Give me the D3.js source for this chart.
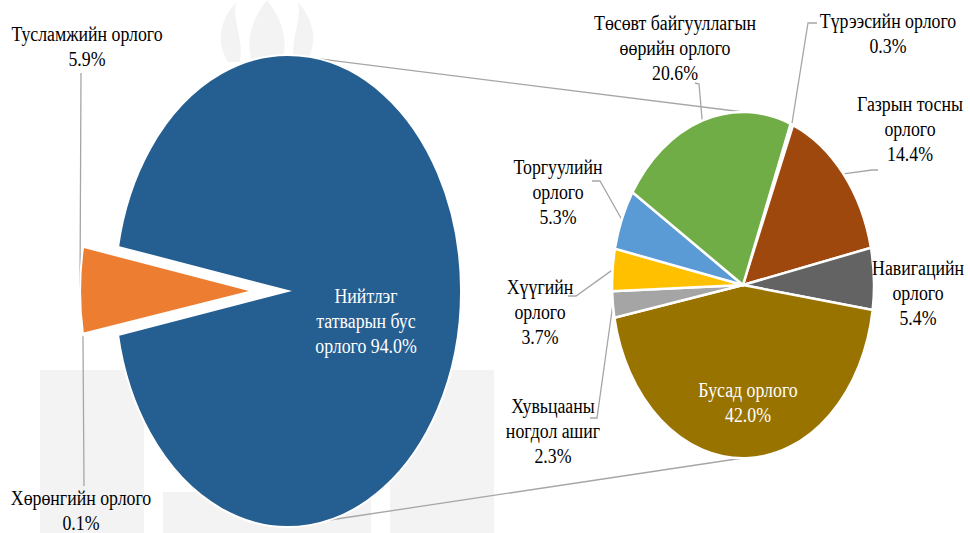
<!DOCTYPE html>
<html>
<head>
<meta charset="utf-8">
<script src="https://cdn.jsdelivr.net/npm/d3@7"></script>
<style>
  body { margin: 0; background: #fff; }
</style>
</head>
<body>
<svg id="chart" width="970" height="533"></svg>
<script>
// left pie: total non-tax revenue
const mainNames = ['Нийтлэг татварын бус орлого', 'Хөрөнгийн орлого', 'Тусламжийн орлого'];
const mainValues = [94.0, 0.1, 5.9];
const mainColors = ['#255E91', '#A5A5A5', '#ED7D31'];
const mainLines = [['Нийтлэг', 'татварын бус', 'орлого 94.0%'], ['Хөрөнгийн орлого', '0.1%'], ['Тусламжийн орлого', '5.9%']];

// right pie: breakdown of the 94.0% slice
const subNames = ['Түрээсийн орлого', 'Газрын тосны орлого', 'Навигацийн орлого', 'Бусад орлого',
  'Хувьцааны ногдол ашиг', 'Хүүгийн орлого', 'Торгуулийн орлого', 'Төсөвт байгууллагын өөрийн орлого'];
const subValues = [0.3, 14.4, 5.4, 42.0, 2.3, 3.7, 5.3, 20.6];
const subColors = ['#4472C4', '#9E480E', '#636363', '#997300', '#A5A5A5', '#FFC000', '#5B9BD5', '#70AD47'];
const subLines = [
  ['Түрээсийн орлого', '0.3%'],
  ['Газрын тосны', 'орлого', '14.4%'],
  ['Навигацийн', 'орлого', '5.4%'],
  ['Бусад орлого', '42.0%'],
  ['Хувьцааны', 'ногдол ашиг', '2.3%'],
  ['Хүүгийн', 'орлого', '3.7%'],
  ['Торгуулийн', 'орлого', '5.3%'],
  ['Төсөвт байгууллагын', 'өөрийн орлого', '20.6%']
];

const svg = d3.select('#chart');
const rad = d => d * Math.PI / 180;
const lineH = 25;
const squeeze = 0.89;
const fontFamily = 'Tinos, Times New Roman, serif';

// geometry
const L = { cx: 288, cy: 291, rx: 173, ry: 236, start: rad(-79.2), explode: 35 };
const R = { cx: 743, cy: 285, rx: 131, ry: 173, start: rad(21.3) };

// label layout: center x, first baseline, optional leader points on the label side
const mainLabelPos = [
  { x: 366, y: 303, fill: '#fff' },
  { x: 81, y: 505, lead: [[84, 486]] },
  { x: 87, y: 41, lead: [[81, 73]] }
];
const subLabelPos = [
  { x: 888, y: 28, lead: [[817, 23], [808, 23]] },
  { x: 910, y: 111, lead: [[878, 170], [872, 170]] },
  { x: 918, y: 275 },
  { x: 748, y: 397, fill: '#fff' },
  { x: 553, y: 413, lead: [[590, 418], [597, 418]] },
  { x: 540, y: 294, lead: [[568, 296], [576, 296]] },
  { x: 558, y: 174, lead: [[592, 181], [600, 181]] },
  { x: 675, y: 30, lead: [[695, 83], [699, 84]] }
];

const onEllipse = (p, a, dx = 0, dy = 0) => [p.cx + dx + p.rx * Math.sin(a), p.cy + dy - p.ry * Math.cos(a)];

// faint watermark in the background
const wm = svg.append('g').attr('fill', '#f3f3f3');
[[40, 370, 104, 163], [390, 370, 104, 163], [163, 492, 208, 41]].forEach(([x, y, w, h]) =>
  wm.append('rect').attr('x', x).attr('y', y).attr('width', w).attr('height', h));
wm.append('path').attr('d',
  'M228,62 C214,40 222,18 236,2 C232,22 244,38 240,62 Z ' +
  'M252,62 C244,36 256,14 267,0 C278,14 290,36 282,62 Z ' +
  'M294,62 C290,38 302,22 298,2 C312,18 320,40 306,62 Z');

const pie = d3.pie().sort(null).value(d => d.value);
const unitArc = d3.arc().innerRadius(0).outerRadius(1);

const mainData = mainValues.map((v, i) => ({ name: mainNames[i], value: v, color: mainColors[i], lines: mainLines[i], pos: mainLabelPos[i] }));
const subData = subValues.map((v, i) => ({ name: subNames[i], value: v, color: subColors[i], lines: subLines[i], pos: subLabelPos[i] }));

const mainArcs = pie.startAngle(L.start).endAngle(L.start + 2 * Math.PI)(mainData);
const subArcs = pie.startAngle(R.start).endAngle(R.start + 2 * Math.PI)(subData);

// connector lines between the two pies (drawn below the pies)
const conn = svg.append('g').attr('stroke', '#a6a6a6').attr('stroke-width', 1.3).attr('fill', 'none');
[[rad(10.5), 0], [rad(166), Math.PI]].forEach(([aL, aR]) => {
  const p0 = onEllipse(L, aL);
  const p1 = onEllipse(R, aR);
  conn.append('line').attr('x1', p0[0]).attr('y1', p0[1]).attr('x2', p1[0]).attr('y2', p1[1]);
});

// secondary slices of the left pie are pulled out along their common middle
const splitMid = (mainArcs[0].endAngle + L.start + 2 * Math.PI) / 2;
const ex = L.explode * Math.sin(splitMid);
const ey = -L.explode * Math.cos(splitMid);

const leaders = svg.append('g').attr('stroke', '#a6a6a6').attr('stroke-width', 1.3).attr('fill', 'none');

mainArcs.forEach((a, i) => {
  const dx = i === 0 ? 0 : ex;
  const dy = i === 0 ? 0 : ey;
  svg.append('path')
    .attr('transform', `translate(${L.cx + dx},${L.cy + dy}) scale(${L.rx},${L.ry})`)
    .attr('d', unitArc(a))
    .attr('fill', a.data.color)
    .attr('stroke', '#fff')
    .attr('stroke-width', 2)
    .attr('vector-effect', 'non-scaling-stroke');
});

subArcs.forEach(a => {
  svg.append('path')
    .attr('transform', `translate(${R.cx},${R.cy}) scale(${R.rx},${R.ry})`)
    .attr('d', unitArc(a))
    .attr('fill', a.data.color)
    .attr('stroke', '#fff')
    .attr('stroke-width', 2.5)
    .attr('vector-effect', 'non-scaling-stroke');
});

// one text per line, squeezed horizontally like the source picture
function drawLabel (d, anchorPt) {
  const p = d.pos;
  if (p.lead) {
    leaders.append('path').attr('d', d3.line()([...p.lead, anchorPt]));
  }
  d.lines.forEach((s, k) => {
    svg.append('text')
      .attr('transform', `translate(${p.x},${p.y + k * lineH}) scale(${squeeze},1)`)
      .attr('text-anchor', 'middle')
      .style('font-family', fontFamily)
      .style('font-size', '20px')
      .attr('fill', p.fill || '#000')
      .text(s);
  });
}

mainArcs.forEach((a, i) => {
  const mid = (a.startAngle + a.endAngle) / 2;
  const pt = i === 0 ? onEllipse(L, mid) : onEllipse(L, mid, ex, ey);
  drawLabel(a.data, pt);
});
subArcs.forEach(a => {
  const mid = (a.startAngle + a.endAngle) / 2;
  drawLabel(a.data, onEllipse(R, mid));
});
</script>
</body>
</html>
